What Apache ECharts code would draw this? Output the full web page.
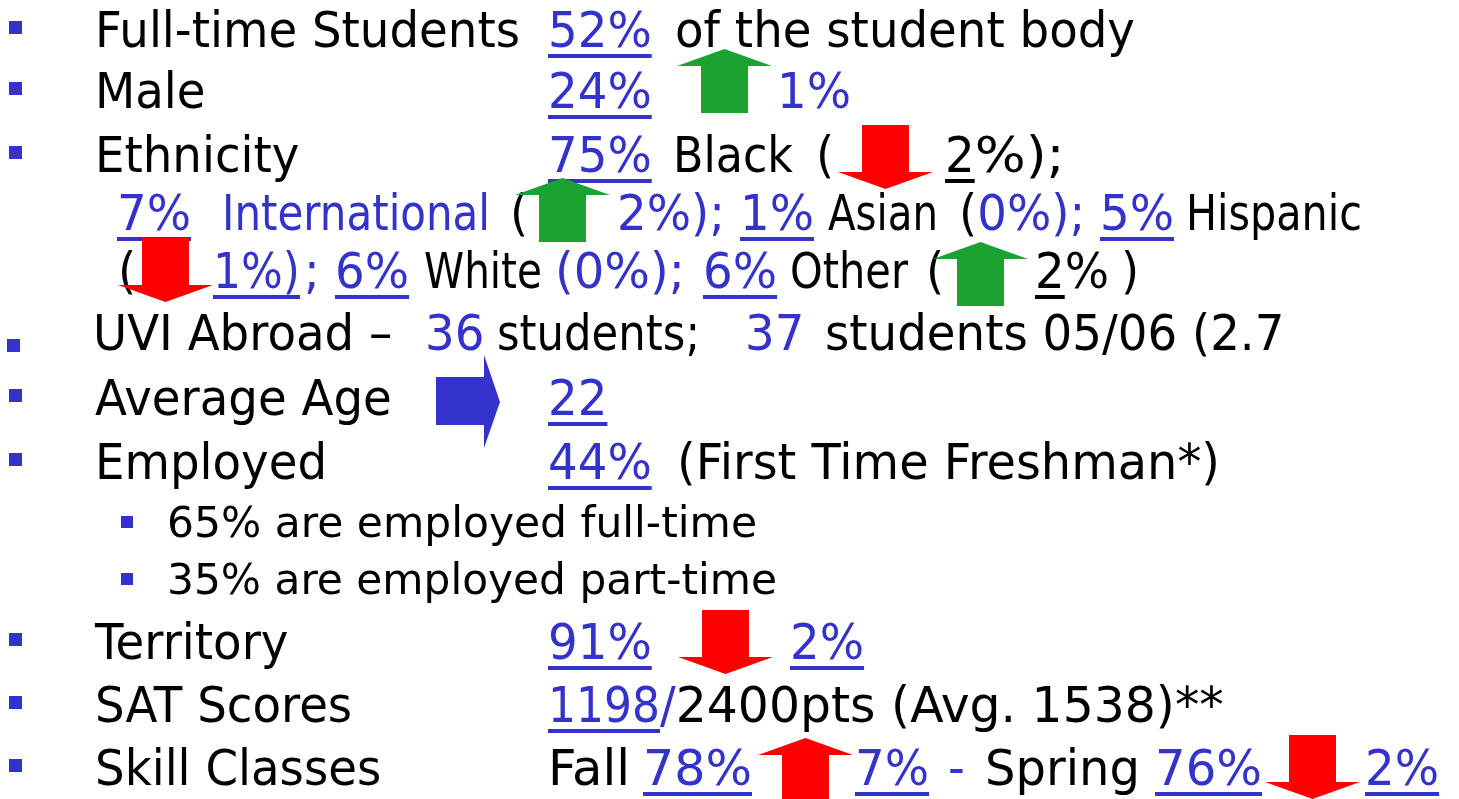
<!DOCTYPE html>
<html>
<head>
<meta charset="utf-8">
<script src="https://cdn.jsdelivr.net/npm/echarts@6/dist/echarts.min.js"></script>
<style>
  html, body { margin: 0; padding: 0; background: #fff; }
  #chart { width: 1459px; height: 799px; }
</style>
</head>
<body>
<div id="chart"></div>
<script>
  // student profile figures
  const rowLabels = ['Full-time Students', 'Male', 'Ethnicity', 'UVI Abroad', 'Average Age', 'Employed', 'Territory', 'SAT Scores', 'Skill Classes'];
  const topShares = [52, 24];          // full-time, male
  const maleChange = 1;
  const ethnicGroups = ['Black', 'International', 'Asian', 'Hispanic', 'White', 'Other'];
  const ethnicShare = [75, 7, 1, 5, 6, 6];
  const ethnicChange = [-2, 2, 0, -1, 0, 2];
  const abroadStudents = [36, 37];     // now, 05/06
  const averageAge = 22;
  const employedShare = 44;
  const employedTypes = ['full-time', 'part-time'];
  const employedSplit = [65, 35];
  const territory = [91, -2];          // share, change
  const satScores = [1198, 2400, 1538]; // score, max, avg
  const skillTerms = ['Fall', 'Spring'];
  const skillShare = [78, 76];
  const skillChange = [7, -2];

  const BLUE = '#3333CC', BLACK = '#000000', GREEN = '#1AA330', RED = '#FF0000';
  const FONT = 'DejaVu Sans';
  const pct = v => Math.abs(v) + '%';

  let ctx = document.createElement('canvas').getContext('2d');
  function measure(t, size) {
    ctx.font = size + 'px "' + FONT + '"';
    return ctx.measureText(t).width;
  }
  // the slide font is squeezed sideways
  const sx = 425 / measure(rowLabels[0], 50);

  // each row: baseline, font size, bullet kind, text pieces (w = width to squeeze into), arrows
  let rows = [
    { b: 50, bullet: 'main', segs: [
      { t: rowLabels[0], x: 95 }, { t: pct(topShares[0]), c: BLUE, u: 1, x: 548 }, { t: 'of the student body', x: 675 }] },
    { b: 111, bullet: 'main', segs: [
      { t: rowLabels[1], x: 95 }, { t: pct(topShares[1]), c: BLUE, u: 1, x: 548 }, { t: pct(maleChange), c: BLUE, x: 777 }],
      arrows: [{ dir: maleChange > 0 ? 'up' : 'down', x: 677, top: 49, c: GREEN }] },
    { b: 175, bullet: 'main', segs: [
      { t: rowLabels[2], x: 95 }, { t: pct(ethnicShare[0]), c: BLUE, u: 1, x: 548 }, { t: ethnicGroups[0], x: 673, w: 120 },
      { t: '(', x: 816 }, { t: String(Math.abs(ethnicChange[0])), u: 1, x: 945 }, { t: '%);', w: 90 }],
      arrows: [{ dir: 'down', x: 838, top: 125, c: RED }] },
    { b: 233, segs: [
      { t: pct(ethnicShare[1]), c: BLUE, u: 1, x: 117 }, { t: ethnicGroups[1], c: BLUE, x: 222, w: 268 }, { t: '(', x: 510 },
      { t: pct(ethnicChange[1]) + ');', c: BLUE, x: 617 }, { t: pct(ethnicShare[2]), c: BLUE, u: 1, x: 740 },
      { t: ethnicGroups[2], x: 828, w: 110 }, { t: '(', x: 959 }, { t: pct(ethnicChange[2]) + ');', c: BLUE },
      { t: pct(ethnicShare[3]), c: BLUE, u: 1, x: 1100 }, { t: ethnicGroups[3], x: 1186, w: 176 }],
      arrows: [{ dir: 'up', x: 515, top: 178, c: GREEN }] },
    { b: 291, segs: [
      { t: '(', x: 118 }, { t: pct(ethnicChange[3]) + ')', c: BLUE, u: 1, x: 213, w: 87 }, { t: ';', c: BLUE, x: 304 },
      { t: pct(ethnicShare[4]), c: BLUE, u: 1, x: 335 }, { t: ethnicGroups[4], x: 424, w: 118 },
      { t: '(' + pct(ethnicChange[4]) + ');', c: BLUE, x: 555, w: 130 }, { t: pct(ethnicShare[5]), c: BLUE, u: 1, x: 703 },
      { t: ethnicGroups[5], x: 790, w: 118 }, { t: '(', x: 926 },
      { t: String(Math.abs(ethnicChange[5])), u: 1, x: 1035 }, { t: '%' }, { t: ')', x: 1121 }],
      arrows: [{ dir: 'down', x: 118, top: 238, c: RED }, { dir: 'up', x: 933, top: 242, c: GREEN }] },
    { b: 353, bullet: 'low', segs: [
      { t: rowLabels[3] + ' –', x: 93 }, { t: String(abroadStudents[0]), c: BLUE, x: 425 }, { t: 'students;', x: 497, w: 203 },
      { t: String(abroadStudents[1]), c: BLUE, x: 745 }, { t: 'students 05/06 (2.7', x: 825 }] },
    { b: 418, bullet: 'main', segs: [
      { t: rowLabels[4], x: 95 }, { t: String(averageAge), c: BLUE, u: 1, x: 548 }],
      arrows: [{ dir: 'right', x: 436, top: 355, c: BLUE }] },
    { b: 482, bullet: 'main', segs: [
      { t: rowLabels[5], x: 95 }, { t: pct(employedShare), c: BLUE, u: 1, x: 548 }, { t: '(First Time Freshman*)', x: 677, w: 543 }] },
    { b: 540, size: 43, bullet: 'sub', segs: [
      { t: pct(employedSplit[0]) + ' are employed ' + employedTypes[0], x: 167, w: 590 }] },
    { b: 597, size: 43, bullet: 'sub', segs: [
      { t: pct(employedSplit[1]) + ' are employed ' + employedTypes[1], x: 167, w: 610 }] },
    { b: 662, bullet: 'main', segs: [
      { t: rowLabels[6], x: 95 }, { t: pct(territory[0]), c: BLUE, u: 1, x: 548 }, { t: pct(territory[1]), c: BLUE, u: 1, x: 790 }],
      arrows: [{ dir: territory[1] < 0 ? 'down' : 'up', x: 678, top: 610, c: RED }] },
    { b: 725, bullet: 'main', segs: [
      { t: rowLabels[7], x: 95 }, { t: String(satScores[0]), c: BLUE, u: 1, x: 548, w: 112 }, { t: '/', c: BLUE },
      { t: satScores[1] + 'pts (Avg. ' + satScores[2] + ')**', w: 548 }] },
    { b: 788, bullet: 'main', segs: [
      { t: rowLabels[8], x: 95 }, { t: skillTerms[0], x: 548, w: 82 }, { t: pct(skillShare[0]), c: BLUE, u: 1, x: 643, w: 109 },
      { t: pct(skillChange[0]), c: BLUE, u: 1, x: 855 }, { t: '-', c: BLUE, x: 948 }, { t: skillTerms[1], x: 985, w: 155 },
      { t: pct(skillShare[1]), c: BLUE, u: 1, x: 1155, w: 107 }, { t: pct(skillChange[1]), c: BLUE, u: 1, x: 1365 }],
      arrows: [{ dir: 'up', x: 758, top: 738, c: RED }, { dir: 'down', x: 1265, top: 735, c: RED }] }
  ];

  function arrowPoints(a) {
    let x = a.x, y = a.top;
    if (a.dir == 'up')
      return [[x + 47.5, y], [x + 95, y + 17], [x + 71, y + 17], [x + 71, y + 64], [x + 24, y + 64], [x + 24, y + 17], [x, y + 17]];
    if (a.dir == 'down')
      return [[x + 24, y], [x + 71, y], [x + 71, y + 47], [x + 95, y + 47], [x + 47.5, y + 64], [x, y + 47], [x + 24, y + 47]];
    // right
    return [[x, y + 22], [x + 48, y + 22], [x + 48, y], [x + 64, y + 47], [x + 48, y + 93], [x + 48, y + 70], [x, y + 70]];
  }

  let graphics = [];
  rows.forEach(row => {
    let size = row.size || 50;
    let cur = 0;
    if (row.bullet) {
      let bs = row.bullet == 'sub' ? { x: 121, y: row.b - 24, w: 12 }
        : row.bullet == 'low' ? { x: 7, y: row.b - 14, w: 13 }
        : { x: 9, y: row.b - 29, w: 13 };
      graphics.push({
        type: 'polygon',
        shape: { points: [[bs.x, bs.y], [bs.x + bs.w, bs.y], [bs.x + bs.w, bs.y + bs.w], [bs.x, bs.y + bs.w]] },
        style: { fill: BLUE }
      });
    }
    row.segs.forEach(s => {
      let x = s.x != null ? s.x : cur;
      let raw = measure(s.t, size);
      let k = s.w ? s.w / raw : sx;
      let w = raw * k;
      let c = s.c || BLACK;
      graphics.push({
        type: 'text', x: x, y: row.b + 1 - size * 0.346, scaleX: k, z: 1,
        style: { text: s.t, fontSize: size, fontFamily: FONT, fill: c, verticalAlign: 'middle' }
      });
      if (s.u) {
        graphics.push({ type: 'rect', z: 1, shape: { x: x, y: row.b + 4, width: w, height: 4 }, style: { fill: c } });
      }
      cur = x + w;
    });
    (row.arrows || []).forEach(a => {
      graphics.push({ type: 'polygon', z: 2, shape: { points: arrowPoints(a) }, style: { fill: a.c } });
    });
  });

  let chart = echarts.init(document.getElementById('chart'));
  chart.setOption({
    backgroundColor: '#ffffff',
    animation: false,
    graphic: graphics
  });
</script>
</body>
</html>
